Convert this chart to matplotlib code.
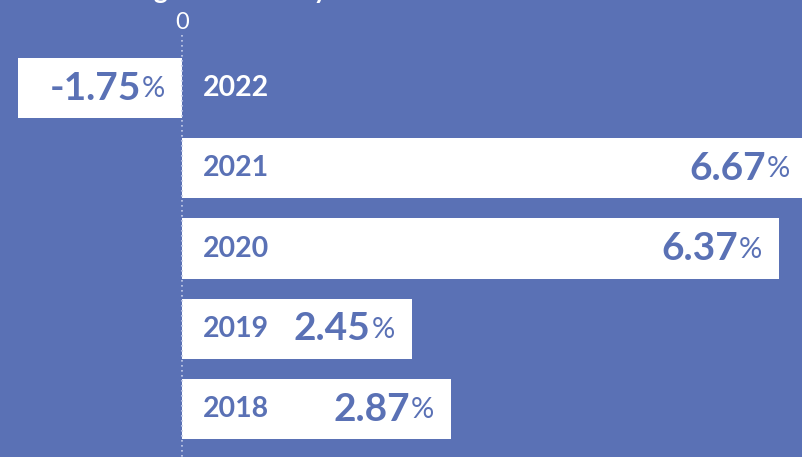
import matplotlib.pyplot as plt

# ------------------- Data -------------------
years = ["2022", "2021", "2020", "2019", "2018"]
values = [-1.75, 6.67, 6.37, 2.45, 2.87]
title = "GDP growth rate by Year"

# ------------------- Style -------------------
bg = "#5a71b5"
bar_color = "white"
text_blue = "#5a71b5"
plt.rcParams["font.family"] = ["Lato", "DejaVu Sans"]

fig = plt.figure(figsize=(8.03, 4.57), dpi=100, facecolor=bg)
ax = fig.add_axes([0, 0, 1, 1], facecolor=bg)

pos = list(range(len(years)))
ax.barh(pos, values, height=0.75, color=bar_color, zorder=2)

ax.set_xlim(-1.942, 6.627)
ax.set_ylim(4.598, -1.097)
ax.axis("off")

# zero line (dotted)
ax.vlines(0, -0.66, 4.598, colors="#c5cde8", linestyles=(0, (1, 2)), linewidth=1.2, zorder=3)
ax.text(0, -0.82, "0", color="white", fontsize=17, ha="center", va="center")

# labels
for p, yr, v in zip(pos, years, values):
    ax.annotate(yr, (0, p), xytext=(21, 0), textcoords="offset pixels",
                ha="left", va="center", color="white" if v < 0 else text_blue,
                fontsize=20.5, fontweight="bold", zorder=4)
    end = max(v, 0)
    # "%" part
    ax.annotate("%", (end, p), xytext=(-17, -1),
                textcoords="offset pixels", ha="right", va="center",
                color=text_blue, fontsize=21, zorder=4, annotation_clip=False)
    ax.annotate(f"{v:.2f}", (end, p), xytext=(-41, 0),
                textcoords="offset pixels", ha="right", va="center",
                color=text_blue, fontsize=28, fontweight="bold", zorder=4,
                annotation_clip=False)

fig.text(92 / 803, 1 + 1 / 457, title, color="white", fontsize=19,
         fontweight="bold", ha="left", va="baseline")

fig.savefig("out.png", dpi=100, facecolor=bg)
